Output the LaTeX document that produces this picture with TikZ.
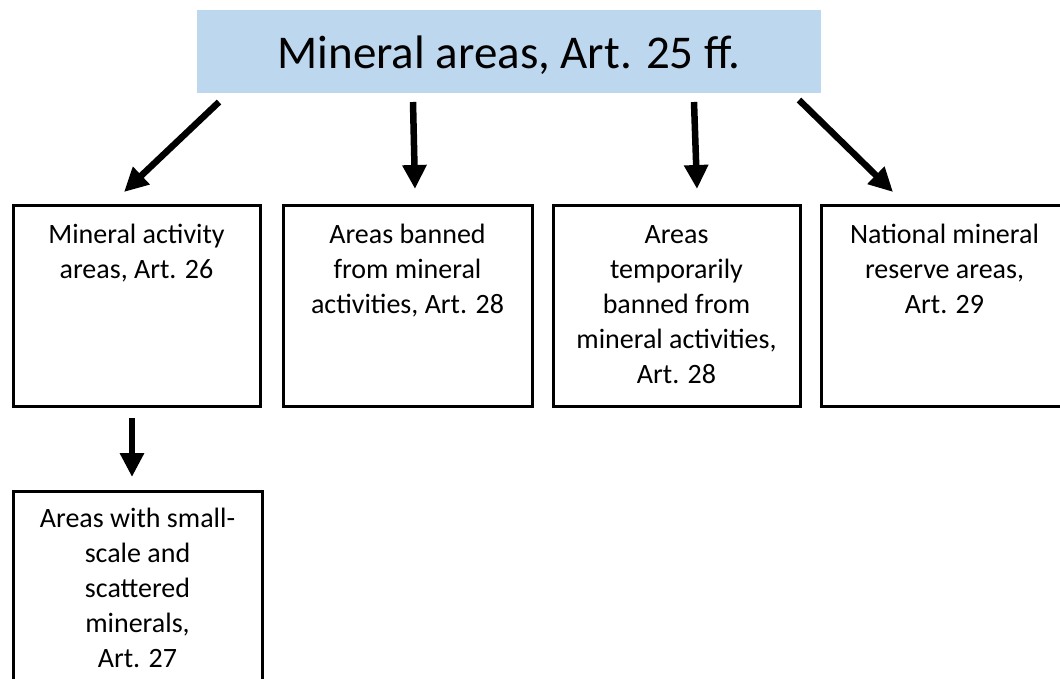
\documentclass[tikz,border=0pt]{standalone}
\usepackage{fontspec}
\setmainfont{Carlito}
\usetikzlibrary{arrows.meta,calc}
\definecolor{headblue}{HTML}{BDD7EE}

% text block of an area box: fixed height, lines hung from the top
\newcommand\areatext[4]{%
  \parbox[c][#1][t]{#2}{\centering\fontsize{28}{35}\selectfont\rule{0pt}{#3}#4}}

\tikzset{
  titlebox/.style={fill=headblue, draw=none, inner sep=0pt, outer sep=0pt,
    minimum width=624pt, text height=58.3pt, text depth=24.7pt,
    font=\fontsize{47}{56}\selectfont},
  areabox/.style={draw=black, line width=3pt, inner sep=0pt, outer sep=0pt},
  arr/.style={line width=6.5pt, -{Triangle[length=24pt,width=23pt]}},
}

\begin{document}
\begin{tikzpicture}[x=1pt, y=-1pt]
\useasboundingbox (0,0) rectangle (1060,678);

\node[titlebox] (top) at (509,51.5) {Mineral areas, Art. 25 ff.};

\node[areabox] (b1) at (136.5,305.5)
  {\areatext{201pt}{247pt}{38pt}{Mineral activity\\areas, Art. 26}};
\node[areabox] (b2) at (407.5,305.5)
  {\areatext{201pt}{249pt}{38pt}{Areas banned\\from mineral\\activities, Art. 28}};
\node[areabox] (b3) at (676.5,305.5)
  {\areatext{201pt}{247pt}{38pt}{Areas\\temporarily\\banned from\\mineral activities,\\Art. 28}};
\node[areabox] (b4) at (944.5,305.5)
  {\areatext{201pt}{247pt}{38pt}{National mineral\\reserve areas,\\Art. 29}};
\node[areabox] (b5) at (137.5,591)
  {\areatext{200pt}{249pt}{36pt}{Areas with small-\\scale and\\scattered\\minerals,\\Art. 27}};

\draw[arr] ($(top.south west)+(22,9)$)  -- ($(b1.north west)+(111,-13)$);
\draw[arr] ($(top.south west)+(216,9)$) -- ($(b2.north west)+(132,-16)$);
\draw[arr] ($(top.south west)+(497,9)$) -- ($(b3.north west)+(144,-16)$);
\draw[arr] ($(top.south west)+(602,7)$) -- ($(b4.north west)+(72,-13)$);
\draw[arr] ($(b1.south west)+(119,12)$) -- ($(b5.north west)+(119,-14)$);
\end{tikzpicture}
\end{document}
